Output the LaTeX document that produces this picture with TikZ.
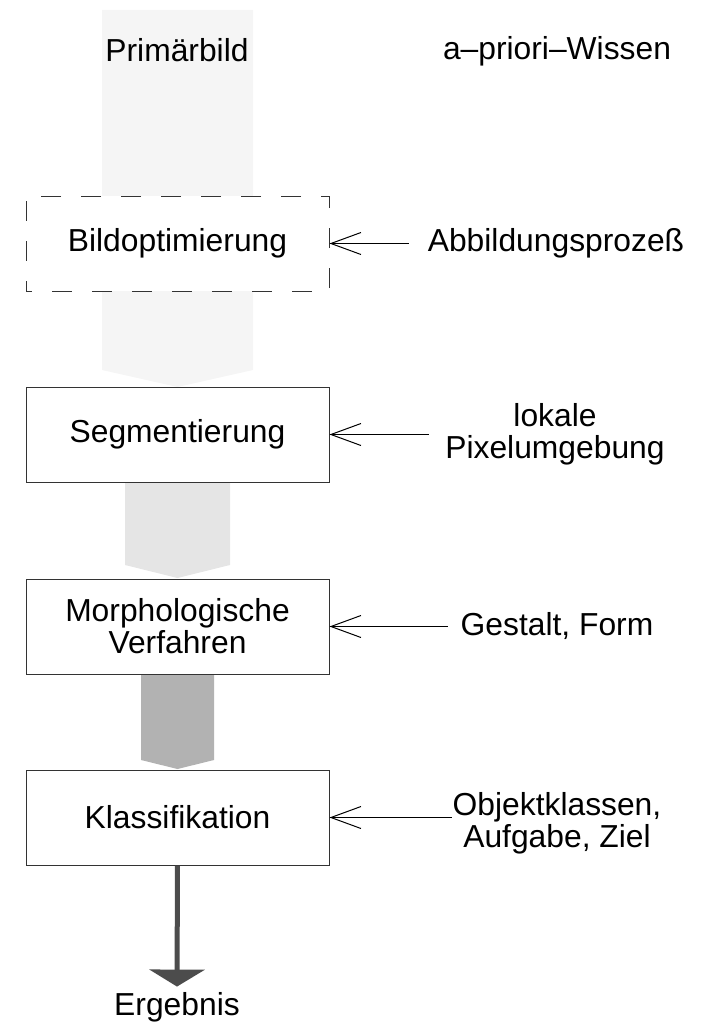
\documentclass[tikz,border=0pt]{standalone}
\usepackage{fontspec}
\setmainfont{Liberation Sans}
\usetikzlibrary{arrows.meta}

\definecolor{pfeilA}{gray}{0.96}
\definecolor{pfeilB}{gray}{0.90}
\definecolor{pfeilC}{gray}{0.70}
\definecolor{pfeilD}{gray}{0.30}

\tikzset{
  stufe/.style={draw=black!80, fill=white, line width=0.5pt, minimum width=151.5pt, minimum height=47.5pt, align=center, inner sep=0pt},
  wissen/.style={align=center, inner sep=0pt},
  zufuhr/.style={line width=0.5pt, {Straight Barb[length=15pt,width=11pt]}-},
}

\begin{document}
\begin{tikzpicture}[x=0.5pt, y=-0.5pt, font=\fontsize{15.9}{16}\selectfont]
\useasboundingbox (0,0) rectangle (704,1022);

% graue Blockpfeile im Hintergrund
\foreach \yo/\yu/\ys/\b/\c in {10/370/387/75.5/pfeilA, 482/565/578/52.5/pfeilB, 674/760/769/36.5/pfeilC}{
	\fill[\c] (177.5-\b,\yo) -- (177.5+\b,\yo) -- (177.5+\b,\yu) -- (177.5,\ys) -- (177.5-\b,\yu) -- cycle;
	}

\node[anchor=base, inner sep=0pt] (prim) at (177,62) {Primärbild};
\node[anchor=base, inner sep=0pt] (apriori) at (557,60) {a–priori–Wissen};

\node[stufe, dash pattern=on 10pt off 10pt, dash phase=7pt] (opt) at (177.5,243.5) {Bildoptimierung};
\node[stufe] (seg) at (177.5,434.5) {Segmentierung};
\node[stufe] (morph) at (177.5,626.5) {Morphologische\\Verfahren};
\node[stufe] (klass) at (177.5,817.5) {Klassifikation};

\node[wissen] (abb) at (556,243.5) {Abbildungsprozeß};
\node[wissen] (pix) at (555,434.5) {lokale\\Pixelumgebung};
\node[wissen] (form) at (557,626.5) {Gestalt, Form};
\node[wissen, yshift=-3pt] (ziel) at (557,817.5) {Objektklassen,\\Aufgabe, Ziel};

\draw[zufuhr] (opt.east) -- ([xshift=-9pt]abb.west);
\draw[zufuhr] (seg.east) -- ([xshift=-8pt]pix.west);
\draw[zufuhr] (morph.east) -- ([xshift=-6pt]form.west);
\draw[zufuhr] (klass.east) -- (klass.east -| ziel.west);

\node[anchor=base, inner sep=2.5pt] (erg) at (177,1015) {Ergebnis};
\draw[pfeilD, line width=2.5pt, -{Triangle[length=8.5pt,width=27.5pt]}] (klass.south) -- (erg.north);
\end{tikzpicture}
\end{document}
